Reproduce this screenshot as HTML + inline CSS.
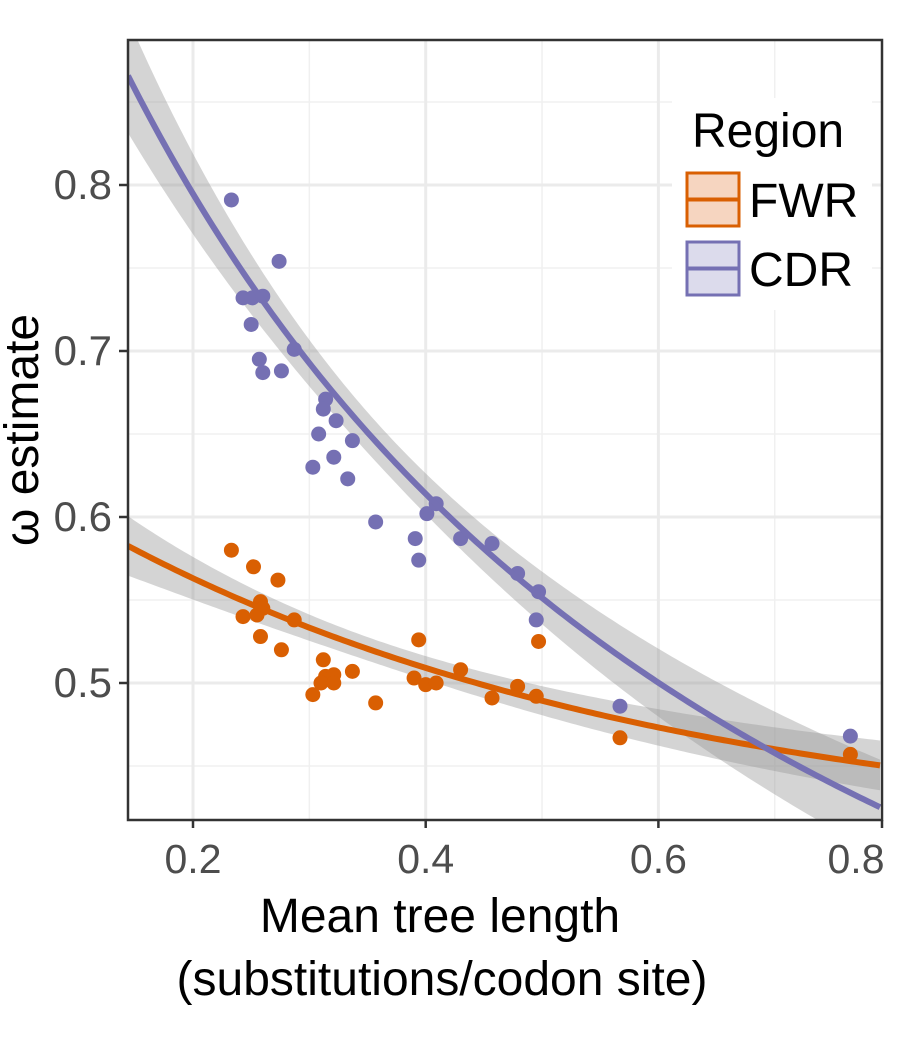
<!DOCTYPE html>
<html><head><meta charset="utf-8"><style>
body{margin:0;background:#fff;}
svg{display:block;font-family:"Liberation Sans",sans-serif;}
</style></head><body>
<svg id="chart" width="913" height="1051"></svg>
<script>
const cdrX=[.233,.243,.251,.260,.250,.274,.257,.260,.276,.287,.314,.312,.323,.308,.337,.321,.303,.333,.357,.391,.394,.401,.409,.430,.457,.479,.497,.495,.567,.765];
const cdrY=[.791,.732,.732,.733,.716,.754,.695,.687,.688,.701,.671,.665,.658,.650,.646,.636,.630,.623,.597,.587,.574,.602,.608,.587,.584,.566,.555,.538,.486,.468];
const fwrX=[.233,.252,.273,.258,.260,.243,.255,.258,.276,.287,.312,.314,.321,.310,.321,.337,.303,.357,.394,.390,.400,.409,.430,.457,.479,.495,.497,.567,.765];
const fwrY=[.580,.570,.562,.549,.545,.540,.541,.528,.520,.538,.514,.504,.505,.500,.500,.507,.493,.488,.526,.503,.499,.500,.508,.491,.498,.492,.525,.467,.457];
const xTicks=[0.2,0.4,0.6,0.8];
const yTicks=[0.5,0.6,0.7,0.8];
const cdrFit=[0.888,1.852];          // 1/y = p + q x
const fwrFit=[0.4025,0.242,2.05];    // y = c + a*exp(-k x)

const NS="http://www.w3.org/2000/svg";
const svg=document.getElementById('chart');
const L=128,R=882,T=40,B=820;
const sx=v=>193+(v-0.2)*1163.5;
const sy=v=>683-(v-0.5)*1660;
const inv=px=>0.2+(px-193)/1163.5;
function mk(tag,attrs,parent){const e=document.createElementNS(NS,tag);for(const k in attrs)e.setAttribute(k,attrs[k]);(parent||svg).appendChild(e);return e;}
const defs=mk('defs',{});
const cp=mk('clipPath',{id:'pc'},defs);mk('rect',{x:L,y:T,width:R-L,height:B-T},cp);
const grid=mk('g',{});


[0.3,0.5,0.7].forEach(v=>mk('line',{x1:sx(v),x2:sx(v),y1:T,y2:B,stroke:'#f0f0f0','stroke-width':1.5},grid));
[0.45,0.55,0.65,0.75,0.85].forEach(v=>mk('line',{x1:L,x2:R,y1:sy(v),y2:sy(v),stroke:'#f0f0f0','stroke-width':1.5},grid));
xTicks.forEach(v=>{if(sx(v)<R)mk('line',{x1:sx(v),x2:sx(v),y1:T,y2:B,stroke:'#ebebeb','stroke-width':3},grid);});
yTicks.forEach(v=>mk('line',{x1:L,x2:R,y1:sy(v),y2:sy(v),stroke:'#ebebeb','stroke-width':3},grid));
const plot=mk('g',{'clip-path':'url(#pc)'});
const fitC=x=>1/(cdrFit[0]+cdrFit[1]*x);
const fitF=x=>fwrFit[0]+fwrFit[1]*Math.exp(-fwrFit[2]*x);
function band(f,s0,k,name){
  const up=[],lo=[],ln=[];
  for(let px=L;px<=R;px+=4){const x=inv(px);const m=f(x);const d=Math.log(x/0.37);const se=s0*Math.sqrt(1+(d/k)*(d/k));
    up.push(px+','+sy(m+se));lo.unshift(px+','+sy(m-se));ln.push(px+','+sy(m));}
  const b=mk('polygon',{points:up.concat(lo).join(' '),fill:'#999',opacity:0.42},plot);
  
  
  return ln;
}
const lnC=band(fitC,0.012,0.35,'cdr');
const lnF=band(fitF,0.007,0.4,'fwr');
function pts(xs,ys,color,name){
  const g=mk('g',{},plot);
  
  
  xs.forEach((x,i)=>{const c=mk('circle',{cx:sx(x),cy:sy(ys[i]),r:7.5,fill:color},g);
    
    });
}
pts(fwrX,fwrY,'#d95f02','fwr');
pts(cdrX,cdrY,'#7570b3','cdr');
const l1=mk('polyline',{points:lnF.join(' '),fill:'none',stroke:'#d95f02','stroke-width':6},plot);


const l2=mk('polyline',{points:lnC.join(' '),fill:'none',stroke:'#7570b3','stroke-width':6},plot);


const lg=mk('g',{});


mk('rect',{x:672,y:98,width:200,height:212,fill:'#fff'},lg);
const lt=mk('text',{x:692,y:147,'font-size':48,fill:'#000'},lg);lt.textContent='Region';


[['FWR','#d95f02','#f6d5c0',173],['CDR','#7570b3','#dcdbec',242]].forEach(([n,c,f,y])=>{
  const e=mk('g',{},lg);
  
  
  mk('rect',{x:687,y:y,width:52,height:53,fill:f,stroke:c,'stroke-width':3},e);
  mk('line',{x1:687,x2:739,y1:y+26.5,y2:y+26.5,stroke:c,'stroke-width':4},e);
  const t=mk('text',{x:749,y:y+44,'font-size':48,fill:'#000'},e);t.textContent=n;
});
const fr=mk('rect',{x:L,y:T,width:R-L,height:B-T,fill:'none',stroke:'#333','stroke-width':2.5});


const xa=mk('g',{});


xTicks.forEach(v=>{const x=Math.min(sx(v),R);mk('line',{x1:x,x2:x,y1:B,y2:B+8,stroke:'#333','stroke-width':2.5},xa);
  const t=mk('text',{x:v===0.8?856:x,y:873,'font-size':41,fill:'#4d4d4d','text-anchor':'middle'},xa);t.textContent=v.toFixed(1);
  
  });
const ya=mk('g',{});


yTicks.forEach(v=>{mk('line',{x1:L-9,x2:L,y1:sy(v),y2:sy(v),stroke:'#333','stroke-width':2.5},ya);
  const t=mk('text',{x:112,y:sy(v)+14,'font-size':42,fill:'#4d4d4d','text-anchor':'end'},ya);t.textContent=v.toFixed(1);
  
  });
const xt1=mk('text',{x:440,y:932,'font-size':48,fill:'#000','text-anchor':'middle'});xt1.textContent='Mean tree length';


const xt2=mk('text',{x:442,y:995,'font-size':48,fill:'#000','text-anchor':'middle'});xt2.textContent='(substitutions/codon site)';


const yt=mk('text',{x:0,y:0,'font-size':48,fill:'#000','text-anchor':'middle',transform:'translate(38,430) rotate(-90)'});yt.textContent='ω estimate';


</script>
</body></html>
